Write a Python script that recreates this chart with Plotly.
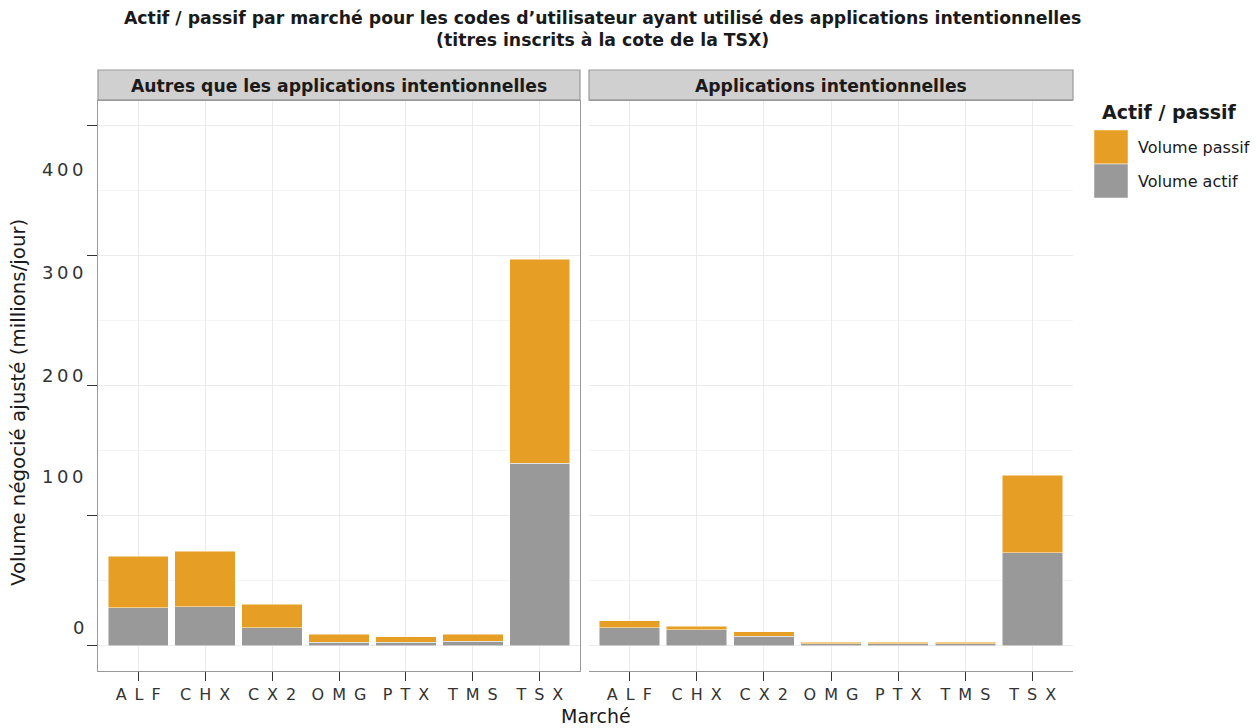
import plotly.graph_objects as go

# ---- data ----
markets = ["ALF", "CHX", "CX2", "OMG", "PTX", "TMS", "TSX"]
panels = ["Autres que les applications intentionnelles", "Applications intentionnelles"]

active_other = [29.3, 30.3, 14.1, 3.0, 2.9, 3.5, 140.7]
passive_other = [39.8, 42.5, 18.0, 5.9, 4.3, 5.4, 156.6]
active_intent = [14.1, 12.3, 7.4, 1.8, 1.8, 1.8, 71.8]
passive_intent = [5.4, 2.8, 3.4, 1.0, 1.0, 1.0, 59.4]

y_ticks = [0, 100, 200, 300, 400]
y_tick_labels = ["0", "100", "200", "300", "400"]

series_names = ["Volume actif", "Volume passif"]
legend_title = "Actif / passif"
title_line1 = "Actif / passif par marché pour les codes d’utilisateur ayant utilisé des applications intentionnelles"
title_line2 = "(titres inscrits à la cote de la TSX)"
y_title = "Volume négocié ajusté (millions/jour)"
x_title = "Marché"

# ---- style ----
COL_ACTIVE = "#999999"
COL_PASSIVE = "#E69F24"
W, H = 1257, 728
ML, MR, MT, MB = 98, 184, 101, 57
label_offsets = [-18.6, -39, -10, 17, 44]  # vertical displacement of y tick labels (px, + = down)
FONT = "DejaVu Sans, Verdana, sans-serif"
TXT = "#1A1A1A"

def spaced(s, sep):
    return sep.join(list(s))

market_labels = [spaced(m, "\u2002") for m in markets]

fig = go.Figure()
for i, (act, pas) in enumerate([(active_other, passive_other), (active_intent, passive_intent)]):
    xa = "x" if i == 0 else "x2"
    fig.add_trace(go.Bar(x=markets, y=act, name=series_names[0], marker_color=COL_ACTIVE,
                         marker_line=dict(color="rgba(255,255,255,0.8)", width=0.6),
                         xaxis=xa, yaxis="y", showlegend=False))
    fig.add_trace(go.Bar(x=markets, y=pas, name=series_names[1], marker_color=COL_PASSIVE,
                         marker_line=dict(color="rgba(255,255,255,0.8)", width=0.6),
                         xaxis=xa, yaxis="y", showlegend=False))

pw = W - ML - MR
ph = H - MT - MB
d1 = [0, (580 - ML) / pw]
d2 = [(589 - ML) / pw, 1]

xcommon = dict(type="category", categoryorder="array", categoryarray=markets,
               tickvals=markets, ticktext=market_labels, range=[-0.6, 6.6],
               showgrid=True, gridcolor="#EBEBEB", gridwidth=1,
               ticks="outside", ticklen=9, tickwidth=1.2, tickcolor="#333333",
               tickfont=dict(size=16, color="#333333", family=FONT),
               showline=True, linecolor="#999999", linewidth=1.2, mirror=True, zeroline=False)

ycommon = dict(range=[-19.3, 419.2], tickvals=y_ticks, showticklabels=False,
               showgrid=True, gridcolor="#EBEBEB", gridwidth=1,
               minor=dict(dtick=50, tick0=50, showgrid=True, gridcolor="#F4F4F4", gridwidth=1, ticks=""),
               showline=True, linecolor="#999999", linewidth=1.2, mirror=True, zeroline=False)

fig.update_layout(
    width=W, height=H, barmode="stack", bargap=0.1,
    plot_bgcolor="white", paper_bgcolor="white",
    margin=dict(l=ML, r=MR, t=MT, b=MB, autoexpand=False),
    font=dict(family=FONT, color=TXT),
    xaxis=dict(domain=d1, anchor="y", **xcommon),
    xaxis2=dict(domain=d2, anchor="y2", **xcommon),
    yaxis=dict(anchor="x", ticks="outside", ticklen=10, tickwidth=1.2, tickcolor="#333333", **ycommon),
    yaxis2=dict(anchor="x2", matches="y", ticks="", **ycommon),
)

# y tick labels (displaced as in the reference)
for v, lab, off in zip(y_ticks, y_tick_labels, label_offsets):
    fig.add_annotation(x=0, xref="paper", y=v, yref="y", text=spaced(lab, "\u2009"), showarrow=False,
                       xanchor="right", yanchor="middle", xshift=-12, yshift=-off,
                       font=dict(size=18, color="#333333", family=FONT))

# strips
strip_h = (MT - 70) / ph
for dom, name in zip([d1, d2], panels):
    fig.add_shape(type="rect", xref="paper", yref="paper", x0=dom[0], x1=dom[1], y0=1.002, y1=1 + strip_h,
                  fillcolor="#D0D0D0", line=dict(color="#999999", width=1.2), layer="above")
    fig.add_annotation(x=(dom[0] + dom[1]) / 2, y=1 + strip_h / 2, xref="paper", yref="paper",
                       text=f"<b>{name}</b>", showarrow=False, xanchor="center", yanchor="middle",
                       font=dict(size=17.2, color=TXT, family=FONT))

def px_x(px):
    return (px - ML) / pw

def px_y(py):
    return 1 - (py - MT) / ph

# title
fig.add_annotation(x=px_x(602), y=px_y(29), xref="paper", yref="paper",
                   text=f"<b>{title_line1}</b><br><b>{title_line2}</b>", showarrow=False,
                   xanchor="center", yanchor="middle",
                   font=dict(size=17.3, color=TXT, family=FONT))
# axis titles
fig.add_annotation(x=px_x(596), y=px_y(716), xref="paper", yref="paper",
                   text=x_title, showarrow=False, xanchor="center", yanchor="middle",
                   font=dict(size=19, color=TXT, family=FONT))
fig.add_annotation(x=px_x(18), y=px_y(403), xref="paper", yref="paper",
                   text=y_title, showarrow=False, xanchor="center", yanchor="middle", textangle=-90,
                   font=dict(size=19.8, color=TXT, family=FONT))

# legend (drawn)
fig.add_annotation(x=px_x(1100), y=px_y(112), xref="paper", yref="paper", text=f"<b>{legend_title}</b>",
                   showarrow=False, xanchor="left", yanchor="middle",
                   font=dict(size=19, color=TXT, family=FONT))
for k, (nm, col) in enumerate([(series_names[1], COL_PASSIVE), (series_names[0], COL_ACTIVE)]):
    top = 130 + 34 * k
    fig.add_shape(type="rect", xref="paper", yref="paper", x0=px_x(1094), x1=px_x(1128),
                  y0=px_y(top + 34), y1=px_y(top), fillcolor=col,
                  line=dict(color="rgba(255,255,255,0.8)", width=0.6))
    fig.add_annotation(x=px_x(1136), y=px_y(top + 17), xref="paper", yref="paper", text=nm,
                       showarrow=False, xanchor="left", yanchor="middle",
                       font=dict(size=16, color=TXT, family=FONT))

fig.write_html("out.html", config={"displayModeBar": False},
               post_script="document.body.style.margin='0';")
